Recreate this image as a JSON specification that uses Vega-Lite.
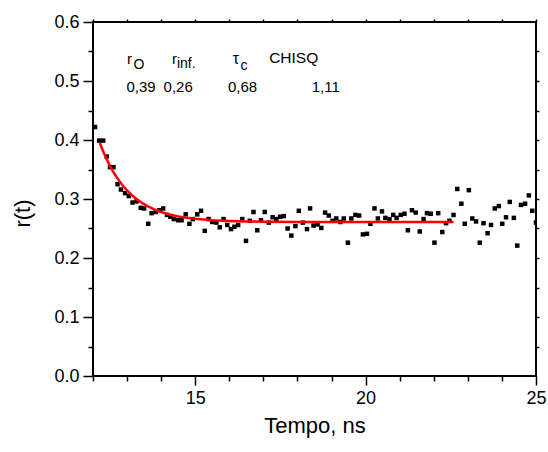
{
  "$schema": "https://vega.github.io/schema/vega-lite/v6.json",
  "width": 443,
  "height": 354,
  "autosize": {"type": "none"},
  "padding": {"left": 93, "top": 22, "right": 12, "bottom": 76},
  "background": "white",
  "config": {
    "view": {"stroke": "black", "strokeWidth": 2},
    "axis": {
      "labelFont": "Liberation Sans", "labelFontSize": 18, "labelColor": "black",
      "titleFont": "Liberation Sans", "titleFontSize": 22, "titleFontWeight": "normal", "titleColor": "black",
      "tickColor": "black", "tickWidth": 1.5, "domain": false, "grid": false, "labelFlush": false, "labelOverlap": false
    }
  },
  "datasets": {
    "obs": [
      {"t": 12.06, "r": 0.422}, {"t": 12.18, "r": 0.399}, {"t": 12.30, "r": 0.399}, {"t": 12.40, "r": 0.372},
      {"t": 12.50, "r": 0.354}, {"t": 12.60, "r": 0.354}, {"t": 12.72, "r": 0.325}, {"t": 12.82, "r": 0.316},
      {"t": 12.94, "r": 0.310}, {"t": 13.05, "r": 0.305}, {"t": 13.16, "r": 0.294}, {"t": 13.28, "r": 0.296},
      {"t": 13.40, "r": 0.285}, {"t": 13.50, "r": 0.284}, {"t": 13.62, "r": 0.258}, {"t": 13.72, "r": 0.276},
      {"t": 13.84, "r": 0.278}, {"t": 13.95, "r": 0.281}, {"t": 14.06, "r": 0.284}, {"t": 14.17, "r": 0.273},
      {"t": 14.27, "r": 0.270}, {"t": 14.37, "r": 0.266}, {"t": 14.50, "r": 0.264}, {"t": 14.60, "r": 0.264},
      {"t": 14.72, "r": 0.274}, {"t": 14.83, "r": 0.258}, {"t": 14.93, "r": 0.266}, {"t": 15.06, "r": 0.274},
      {"t": 15.17, "r": 0.280}, {"t": 15.28, "r": 0.246}, {"t": 15.39, "r": 0.266}, {"t": 15.50, "r": 0.261},
      {"t": 15.62, "r": 0.260}, {"t": 15.72, "r": 0.252}, {"t": 15.83, "r": 0.266}, {"t": 15.94, "r": 0.256},
      {"t": 16.05, "r": 0.249}, {"t": 16.15, "r": 0.253}, {"t": 16.26, "r": 0.256}, {"t": 16.38, "r": 0.266},
      {"t": 16.49, "r": 0.229}, {"t": 16.60, "r": 0.263}, {"t": 16.71, "r": 0.278}, {"t": 16.82, "r": 0.247},
      {"t": 16.93, "r": 0.264}, {"t": 17.04, "r": 0.278}, {"t": 17.16, "r": 0.260}, {"t": 17.27, "r": 0.269},
      {"t": 17.38, "r": 0.266}, {"t": 17.49, "r": 0.270}, {"t": 17.60, "r": 0.271}, {"t": 17.71, "r": 0.250},
      {"t": 17.82, "r": 0.238}, {"t": 17.94, "r": 0.254}, {"t": 18.04, "r": 0.280}, {"t": 18.16, "r": 0.260},
      {"t": 18.28, "r": 0.249}, {"t": 18.37, "r": 0.284}, {"t": 18.47, "r": 0.255}, {"t": 18.59, "r": 0.257},
      {"t": 18.70, "r": 0.251}, {"t": 18.81, "r": 0.277}, {"t": 18.92, "r": 0.272}, {"t": 19.03, "r": 0.263},
      {"t": 19.14, "r": 0.267}, {"t": 19.26, "r": 0.261}, {"t": 19.36, "r": 0.267}, {"t": 19.48, "r": 0.226},
      {"t": 19.58, "r": 0.267}, {"t": 19.70, "r": 0.273}, {"t": 19.81, "r": 0.272}, {"t": 19.92, "r": 0.240},
      {"t": 20.04, "r": 0.241}, {"t": 20.14, "r": 0.258}, {"t": 20.26, "r": 0.284}, {"t": 20.36, "r": 0.267},
      {"t": 20.48, "r": 0.279}, {"t": 20.58, "r": 0.268}, {"t": 20.70, "r": 0.266}, {"t": 20.81, "r": 0.273},
      {"t": 20.91, "r": 0.268}, {"t": 21.03, "r": 0.273}, {"t": 21.14, "r": 0.275}, {"t": 21.24, "r": 0.247},
      {"t": 21.36, "r": 0.281}, {"t": 21.47, "r": 0.277}, {"t": 21.59, "r": 0.245}, {"t": 21.70, "r": 0.266},
      {"t": 21.80, "r": 0.276}, {"t": 21.91, "r": 0.275}, {"t": 22.02, "r": 0.226}, {"t": 22.13, "r": 0.276},
      {"t": 22.25, "r": 0.244}, {"t": 22.36, "r": 0.259}, {"t": 22.46, "r": 0.263}, {"t": 22.58, "r": 0.273},
      {"t": 22.69, "r": 0.317}, {"t": 22.81, "r": 0.292}, {"t": 22.91, "r": 0.258}, {"t": 23.03, "r": 0.315},
      {"t": 23.13, "r": 0.267}, {"t": 23.24, "r": 0.262}, {"t": 23.35, "r": 0.226}, {"t": 23.46, "r": 0.259},
      {"t": 23.58, "r": 0.242}, {"t": 23.68, "r": 0.256}, {"t": 23.79, "r": 0.284}, {"t": 23.91, "r": 0.288},
      {"t": 24.01, "r": 0.258}, {"t": 24.12, "r": 0.269}, {"t": 24.23, "r": 0.295}, {"t": 24.35, "r": 0.268},
      {"t": 24.45, "r": 0.221}, {"t": 24.56, "r": 0.290}, {"t": 24.68, "r": 0.292}, {"t": 24.79, "r": 0.306},
      {"t": 24.89, "r": 0.280}, {"t": 25.00, "r": 0.260}
    ],
    "fit": [
      {"t": 12.2, "r": 0.395}, {"t": 12.3, "r": 0.3804}, {"t": 12.4, "r": 0.3675}, {"t": 12.5, "r": 0.3559},
      {"t": 12.6, "r": 0.3456}, {"t": 12.7, "r": 0.3364}, {"t": 12.8, "r": 0.3282}, {"t": 12.9, "r": 0.3209},
      {"t": 13.0, "r": 0.3144}, {"t": 13.15, "r": 0.306}, {"t": 13.3, "r": 0.2989}, {"t": 13.45, "r": 0.2929},
      {"t": 13.6, "r": 0.2878}, {"t": 13.8, "r": 0.2823}, {"t": 14.0, "r": 0.2779}, {"t": 14.25, "r": 0.2737},
      {"t": 14.5, "r": 0.2705}, {"t": 14.75, "r": 0.2681}, {"t": 15.0, "r": 0.2664}, {"t": 15.5, "r": 0.264},
      {"t": 16.0, "r": 0.2627}, {"t": 16.5, "r": 0.262}, {"t": 17.0, "r": 0.2615}, {"t": 18.0, "r": 0.2612},
      {"t": 19.0, "r": 0.2611}, {"t": 20.0, "r": 0.261}, {"t": 21.0, "r": 0.261}, {"t": 22.0, "r": 0.261},
      {"t": 22.58, "r": 0.261}
    ]
  },
  "layer": [
    {
      "data": {"name": "obs"},
      "mark": {"type": "square", "size": 20, "color": "black", "opacity": 1, "clip": true},
      "encoding": {
        "x": {"field": "t", "type": "quantitative", "scale": {"domain": [12, 25], "nice": false, "zero": false},
          "axis": {"orient": "bottom", "values": [15, 20, 25], "tickSize": 9, "labelPadding": 4, "title": "Tempo, ns", "titleY": 56, "titleBaseline": "alphabetic"}},
        "y": {"field": "r", "type": "quantitative", "scale": {"domain": [0, 0.6], "nice": false, "zero": true},
          "axis": {"orient": "left", "values": [0, 0.1, 0.2, 0.3, 0.4, 0.5, 0.6], "format": ".1f", "tickSize": 10, "labelPadding": 4, "title": "r(t)", "titleX": -71, "titleY": 191, "titleBaseline": "middle", "titleAlign": "center", "titleAngle": 270}}
      }
    },
    {
      "data": {"name": "fit"},
      "mark": {"type": "line", "color": "#ff0000", "strokeWidth": 2.5},
      "encoding": {
        "x": {"field": "t", "type": "quantitative",
          "axis": {"orient": "bottom", "values": [12, 13, 14, 16, 17, 18, 19, 21, 22, 23, 24], "tickSize": 5, "labels": false, "title": null}},
        "y": {"field": "r", "type": "quantitative",
          "axis": {"orient": "left", "values": [0.05, 0.15, 0.25, 0.35, 0.45, 0.55], "tickSize": 5, "labels": false, "title": null}}
      }
    },
    {
      "data": {"values": [{}]},
      "mark": {"type": "text", "text": "r", "align": "left", "baseline": "alphabetic", "font": "Liberation Sans", "fontSize": 15, "color": "black"},
      "encoding": {
        "x": {"datum": 13.0, "type": "quantitative", "axis": {"orient": "top", "values": [12, 13, 14, 15, 16, 17, 18, 19, 20, 21, 22, 23, 24, 25], "tickSize": 3, "labels": false, "title": null}},
        "y": {"datum": 0.529, "type": "quantitative", "axis": {"orient": "right", "values": [0.05, 0.1, 0.15, 0.2, 0.25, 0.3, 0.35, 0.4, 0.45, 0.5, 0.55], "tickSize": 3, "labels": false, "title": null}}
      }
    },
    {
      "data": {"values": [{}]},
      "mark": {"type": "text", "text": "O", "align": "left", "baseline": "alphabetic", "font": "Liberation Sans", "fontSize": 14, "color": "black"},
      "encoding": {"x": {"datum": 13.19, "type": "quantitative", "axis": null}, "y": {"datum": 0.520, "type": "quantitative", "axis": null}}
    },
    {
      "data": {"values": [{}]},
      "mark": {"type": "text", "text": "r", "align": "left", "baseline": "alphabetic", "font": "Liberation Sans", "fontSize": 15, "color": "black"},
      "encoding": {"x": {"datum": 14.317, "type": "quantitative", "axis": null}, "y": {"datum": 0.529, "type": "quantitative", "axis": null}}
    },
    {
      "data": {"values": [{}]},
      "mark": {"type": "text", "text": "inf.", "align": "left", "baseline": "alphabetic", "font": "Liberation Sans", "fontSize": 14, "color": "black"},
      "encoding": {"x": {"datum": 14.463, "type": "quantitative", "axis": null}, "y": {"datum": 0.522, "type": "quantitative", "axis": null}}
    },
    {
      "data": {"values": [{}]},
      "mark": {"type": "text", "text": "τ", "align": "left", "baseline": "alphabetic", "font": "Liberation Sans", "fontSize": 16, "color": "black"},
      "encoding": {"x": {"datum": 16.1, "type": "quantitative", "axis": null}, "y": {"datum": 0.529, "type": "quantitative", "axis": null}}
    },
    {
      "data": {"values": [{}]},
      "mark": {"type": "text", "text": "c", "align": "left", "baseline": "alphabetic", "font": "Liberation Sans", "fontSize": 14, "color": "black"},
      "encoding": {"x": {"datum": 16.33, "type": "quantitative", "axis": null}, "y": {"datum": 0.519, "type": "quantitative", "axis": null}}
    },
    {
      "data": {"values": [{}]},
      "mark": {"type": "text", "text": "CHISQ", "align": "left", "baseline": "alphabetic", "font": "Liberation Sans", "fontSize": 15.5, "color": "black"},
      "encoding": {"x": {"datum": 17.17, "type": "quantitative", "axis": null}, "y": {"datum": 0.530, "type": "quantitative", "axis": null}}
    },
    {
      "data": {"values": [{}]},
      "mark": {"type": "text", "text": "0,39", "align": "left", "baseline": "alphabetic", "font": "Liberation Sans", "fontSize": 15, "color": "black"},
      "encoding": {"x": {"datum": 12.98, "type": "quantitative", "axis": null}, "y": {"datum": 0.482, "type": "quantitative", "axis": null}}
    },
    {
      "data": {"values": [{}]},
      "mark": {"type": "text", "text": "0,26", "align": "left", "baseline": "alphabetic", "font": "Liberation Sans", "fontSize": 15, "color": "black"},
      "encoding": {"x": {"datum": 14.07, "type": "quantitative", "axis": null}, "y": {"datum": 0.482, "type": "quantitative", "axis": null}}
    },
    {
      "data": {"values": [{}]},
      "mark": {"type": "text", "text": "0,68", "align": "left", "baseline": "alphabetic", "font": "Liberation Sans", "fontSize": 15, "color": "black"},
      "encoding": {"x": {"datum": 15.96, "type": "quantitative", "axis": null}, "y": {"datum": 0.482, "type": "quantitative", "axis": null}}
    },
    {
      "data": {"values": [{}]},
      "mark": {"type": "text", "text": "1,11", "align": "left", "baseline": "alphabetic", "font": "Liberation Sans", "fontSize": 15, "color": "black"},
      "encoding": {"x": {"datum": 18.42, "type": "quantitative", "axis": null}, "y": {"datum": 0.482, "type": "quantitative", "axis": null}}
    }
  ],
  "resolve": {"axis": {"x": "independent", "y": "independent"}}
}
